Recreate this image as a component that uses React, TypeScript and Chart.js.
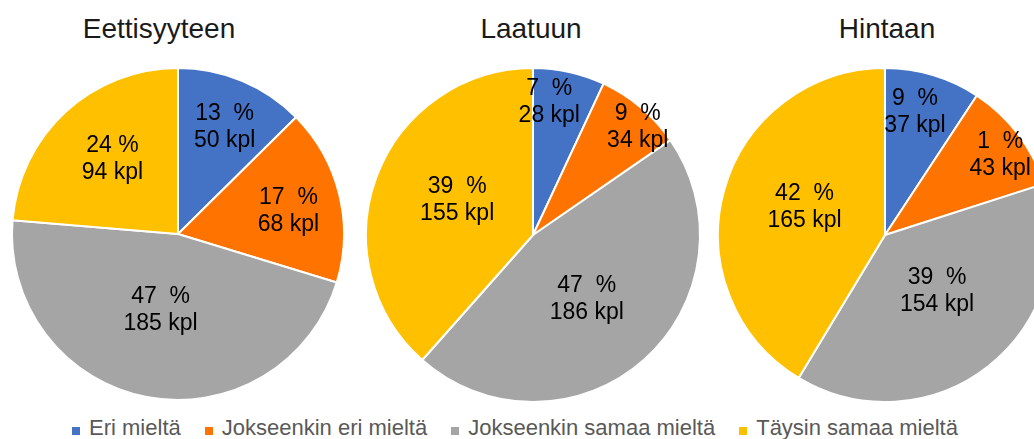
import React, { useEffect, useRef } from "react";
import { Chart, registerables } from "chart.js";

Chart.register(...registerables);

// ---- Data ----
const categories = ["Eri mieltä", "Jokseenkin eri mieltä", "Jokseenkin samaa mieltä", "Täysin samaa mieltä"];
const chartTitles = ["Eettisyyteen", "Laatuun", "Hintaan"];

const ethicsCounts = [50, 68, 185, 94];
const ethicsPercents = ["13  %", "17  %", "47  %", "24 %"];

const qualityCounts = [28, 34, 186, 155];
const qualityPercents = ["7  %", "9  %", "47  %", "39  %"];

const priceCounts = [37, 43, 154, 165];
const pricePercents = ["9  %", "1  %", "39  %", "42  %"];

// ---- Styles / layout ----
const sliceColors = ["#4472C4", "#FF7300", "#A5A5A5", "#FFC000"];
const FONT = "'Liberation Sans', Arial, sans-serif";

// label distance from centre as fraction of radius (Excel "best fit" look)
const ethicsLabelRadius = [0.7, 0.68, 0.47, 0.6];
const qualityLabelRadius = [0.8, 0.9, 0.5, 0.5];
const priceLabelRadius = [0.76, 0.84, 0.46, 0.51];
// small angular nudges (degrees) from the slice bisector
const ethicsLabelShift = [1, 2, 2, 1.5];
const qualityLabelShift = [-5.5, 4, 1.5, 4];
const priceLabelShift = [-3, 2.4, -4.3, 3.5];

type PieSpec = {
  title: string;
  counts: number[];
  percents: string[];
  labelRadius: number[];
  labelShift: number[];
  cx: number;
  cy: number;
  r: number;
  titleX: number;
};

const pies: PieSpec[] = [
  { title: chartTitles[0], counts: ethicsCounts, percents: ethicsPercents, labelRadius: ethicsLabelRadius, labelShift: ethicsLabelShift, cx: 178, cy: 234, r: 166, titleX: 159 },
  { title: chartTitles[1], counts: qualityCounts, percents: qualityPercents, labelRadius: qualityLabelRadius, labelShift: qualityLabelShift, cx: 533, cy: 235, r: 167, titleX: 531 },
  { title: chartTitles[2], counts: priceCounts, percents: pricePercents, labelRadius: priceLabelRadius, labelShift: priceLabelShift, cx: 885, cy: 235, r: 167, titleX: 887 },
];

const PAD = 4;

function PieChart({ spec }: { spec: PieSpec }) {
  const ref = useRef<HTMLCanvasElement | null>(null);
  useEffect(() => {
    if (!ref.current) return;
    const labelPlugin = {
      id: "sliceLabels",
      afterDatasetsDraw(chart: any) {
        const ctx = chart.ctx;
        const meta = chart.getDatasetMeta(0);
        ctx.save();
        ctx.fillStyle = "#000000";
        ctx.font = `23px ${FONT}`;
        ctx.textAlign = "center";
        ctx.textBaseline = "middle";
        meta.data.forEach((arc: any, i: number) => {
          const p = arc.getProps(["x", "y", "startAngle", "endAngle", "outerRadius"], true);
          const mid = (p.startAngle + p.endAngle) / 2 + (spec.labelShift[i] * Math.PI) / 180;
          const rr = p.outerRadius * spec.labelRadius[i];
          const x = p.x + Math.cos(mid) * rr;
          const y = p.y + Math.sin(mid) * rr;
          ctx.fillText(spec.percents[i], x, y - 13.5);
          ctx.fillText(`${spec.counts[i]} kpl`, x, y + 13.5);
        });
        ctx.restore();
      },
    };
    const chart = new Chart(ref.current, {
      type: "pie",
      data: {
        labels: categories,
        datasets: [
          {
            data: spec.counts,
            backgroundColor: sliceColors,
            borderColor: "#ffffff",
            borderWidth: 2,
          },
        ],
      },
      options: {
        responsive: false,
        animation: false,
        events: [],
        radius: spec.r,
        layout: { padding: 0 },
        plugins: {
          legend: { display: false },
          tooltip: { enabled: false },
          title: { display: false },
        },
      } as any,
      plugins: [labelPlugin],
    });
    return () => chart.destroy();
  }, [spec]);
  const size = 2 * (spec.r + PAD);
  return (
    <canvas
      ref={ref}
      width={size}
      height={size}
      style={{
        position: "absolute",
        left: spec.cx - spec.r - PAD,
        top: spec.cy - spec.r - PAD,
        width: size,
        height: size,
      }}
    />
  );
}

export default function App() {
  return (
    <div
      style={{
        position: "absolute",
        left: 0,
        top: 0,
        width: 1034,
        height: 439,
        overflow: "hidden",
        background: "#ffffff",
        fontFamily: FONT,
      }}
    >
      {pies.map((p, i) => (
        <div
          key={"t" + i}
          style={{
            position: "absolute",
            left: p.titleX - 150,
            top: 15,
            width: 300,
            textAlign: "center",
            fontSize: 28,
            lineHeight: "28px",
            color: "#1a1a1a",
            whiteSpace: "nowrap",
          }}
        >
          {p.title}
        </div>
      ))}
      {pies.map((p, i) => (
        <PieChart key={"p" + i} spec={p} />
      ))}
      <div
        style={{
          position: "absolute",
          left: 0,
          top: 417,
          width: 1030,
          display: "flex",
          justifyContent: "center",
          gap: 24,
          fontSize: 22,
          lineHeight: "22px",
          color: "#595959",
          whiteSpace: "nowrap",
        }}
      >
        {categories.map((c, i) => (
          <span key={c}>
            <span
              style={{
                display: "inline-block",
                width: 8,
                height: 8,
                background: sliceColors[i],
                marginRight: 9,
                verticalAlign: "baseline",
              }}
            />
            {c}
          </span>
        ))}
      </div>
    </div>
  );
}
